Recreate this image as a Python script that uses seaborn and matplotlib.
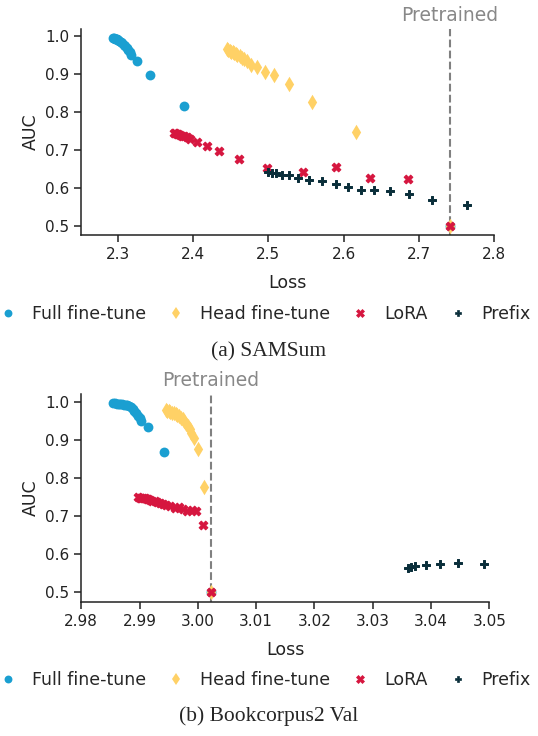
import numpy as np
import pandas as pd
import matplotlib
matplotlib.use("Agg")
import matplotlib.pyplot as plt
import seaborn as sns

# ---------------- data: SAMSum ----------------
samsum_pretrained_loss = 2.741
samsum_full_loss = [2.294, 2.295, 2.296, 2.297, 2.298, 2.299, 2.300, 2.302, 2.304, 2.306,
                    2.308, 2.310, 2.312, 2.314, 2.316, 2.318, 2.325, 2.343, 2.388, 2.741]
samsum_full_auc = [0.995, 0.995, 0.994, 0.994, 0.993, 0.992, 0.990, 0.988, 0.985, 0.982,
                   0.978, 0.974, 0.969, 0.963, 0.958, 0.952, 0.936, 0.899, 0.816, 0.500]
samsum_head_loss = [2.445, 2.447, 2.449, 2.451, 2.453, 2.455, 2.457, 2.459, 2.462, 2.465,
                    2.468, 2.471, 2.477, 2.485, 2.495, 2.508, 2.527, 2.558, 2.616, 2.741]
samsum_head_auc = [0.966, 0.964, 0.962, 0.960, 0.958, 0.956, 0.953, 0.951, 0.948, 0.944,
                   0.940, 0.935, 0.925, 0.920, 0.907, 0.897, 0.874, 0.827, 0.747, 0.500]
samsum_lora_loss = [2.374, 2.376, 2.378, 2.380, 2.382, 2.385, 2.388, 2.392, 2.396, 2.405,
                    2.418, 2.435, 2.461, 2.498, 2.546, 2.590, 2.635, 2.686, 2.741]
samsum_lora_auc = [0.745, 0.744, 0.743, 0.742, 0.740, 0.738, 0.736, 0.733, 0.729, 0.722,
                   0.711, 0.697, 0.676, 0.653, 0.641, 0.654, 0.626, 0.623, 0.500]
samsum_prefix_loss = [2.500, 2.5045, 2.510, 2.518, 2.527, 2.539, 2.5545, 2.572, 2.5895,
                      2.606, 2.6235, 2.641, 2.6615, 2.6865, 2.717, 2.7635]
samsum_prefix_auc = [0.641, 0.639, 0.639, 0.635, 0.633, 0.626, 0.621, 0.619, 0.610,
                     0.603, 0.593, 0.593, 0.592, 0.583, 0.569, 0.555]

# ---------------- data: Bookcorpus2 Val ----------------
book_pretrained_loss = 3.0022
book_full_loss = [2.9855, 2.9858, 2.9861, 2.9864, 2.9867, 2.9870, 2.9873, 2.9876, 2.9879, 2.9882,
                  2.9885, 2.9888, 2.9891, 2.9894, 2.9897, 2.9900, 2.9903, 2.9915, 2.9942, 3.0022]
book_full_auc = [0.997, 0.997, 0.996, 0.996, 0.995, 0.995, 0.994, 0.993, 0.992, 0.990,
                 0.987, 0.983, 0.978, 0.972, 0.965, 0.958, 0.950, 0.936, 0.869, 0.500]
book_head_loss = [2.9945, 2.9947, 2.9950, 2.9953, 2.9956, 2.9959, 2.9962, 2.9965, 2.9968, 2.9971,
                  2.9974, 2.9977, 2.9980, 2.9983, 2.9986, 2.9989, 2.9993, 3.0001, 3.0010, 3.0022]
book_head_auc = [0.980, 0.978, 0.976, 0.975, 0.973, 0.971, 0.969, 0.966, 0.963, 0.959,
                 0.955, 0.950, 0.944, 0.937, 0.929, 0.920, 0.905, 0.877, 0.776, 0.500]
book_lora_loss = [2.9897, 2.9900, 2.9903, 2.9906, 2.9909, 2.9912, 2.9915, 2.9918, 2.9922, 2.9926,
                  2.9930, 2.9935, 2.9940, 2.9946, 2.9952, 2.9960, 2.9968, 2.9975, 2.9982, 2.9990,
                  2.9996, 3.0009, 3.0022]
book_lora_auc = [0.750, 0.749, 0.749, 0.748, 0.747, 0.746, 0.745, 0.743, 0.741, 0.739,
                 0.737, 0.735, 0.732, 0.729, 0.726, 0.723, 0.724, 0.720, 0.713, 0.716,
                 0.715, 0.676, 0.500]
book_prefix_loss = [3.0361, 3.0365, 3.0372, 3.0391, 3.0416, 3.0447, 3.0491]
book_prefix_auc = [0.565, 0.567, 0.569, 0.573, 0.575, 0.577, 0.575]

methods = ["Full fine-tune", "Head fine-tune", "LoRA", "Prefix"]
colors = {"Full fine-tune": "#1A9FD1", "Head fine-tune": "#FFD166",
          "LoRA": "#D6163F", "Prefix": "#0A2E3A"}
markers = {"Full fine-tune": "o", "Head fine-tune": "d", "LoRA": "X", "Prefix": "P"}
msizes = {"Full fine-tune": 50, "Head fine-tune": 62, "LoRA": 40, "Prefix": 34}
edgew = {"Full fine-tune": 0, "Head fine-tune": 0, "LoRA": 0.7, "Prefix": 0.7}

sns.set_style("ticks")
plt.rcParams["font.family"] = ["DejaVu Sans"]

fig = plt.figure(figsize=(5.38, 7.36), dpi=100)
ax1 = fig.add_axes([81 / 538, 1 - 235 / 736, (494 - 81) / 538, (235 - 29) / 736])
ax2 = fig.add_axes([81.3 / 538, 1 - 601.7 / 736, (489.3 - 81.3) / 538, (601.7 - 394) / 736])


def draw(ax, data, pre_x, xlim, xticks, xfmt, caption, cap_y, leg_y):
    for m in methods:
        lx, ly = data[m]
        df = pd.DataFrame({"Loss": lx, "AUC": ly})
        sns.scatterplot(data=df, x="Loss", y="AUC", ax=ax, color=colors[m],
                        marker=markers[m], s=msizes[m], linewidth=edgew[m],
                        edgecolor=colors[m], label=m, legend=False, zorder=3)
    ax.axvline(pre_x, color="#808080", linestyle="--", linewidth=1.5, zorder=2)
    ax.set_xlim(*xlim)
    ax.set_xticks(xticks)
    ax.set_xticklabels([xfmt.format(t) for t in xticks])
    ax.set_yticks([0.5, 0.6, 0.7, 0.8, 0.9, 1.0])
    ax.set_yticklabels(["0.5", "0.6", "0.7", "0.8", "0.9", "1.0"])
    ax.tick_params(labelsize=11, length=5, width=1.1, color="#222222", labelcolor="#222222")
    for sp in ["left", "bottom"]:
        ax.spines[sp].set_linewidth(1.1)
        ax.spines[sp].set_color("#222222")
    sns.despine(ax=ax)
    ax.set_xlabel("Loss", fontsize=12.5, color="#222222", labelpad=9)
    ax.set_ylabel("AUC", fontsize=12.5, color="#222222", labelpad=4)
    ax.annotate("Pretrained", xy=(pre_x, 1.0), xycoords=ax.get_xaxis_transform(),
                xytext=(0, 3), textcoords="offset points",
                ha="center", va="bottom", fontsize=13.5, color="#888888")
    handles = [plt.Line2D([], [], linestyle="none", marker=markers[m],
                          markersize=np.sqrt(msizes[m]) * 0.8, markerfacecolor=colors[m],
                          markeredgecolor=colors[m], markeredgewidth=edgew[m] * 0.7,
                          label=m) for m in methods]
    fig.legend(handles=handles, loc="center", bbox_to_anchor=(265 / 538, 1 - leg_y / 736),
               ncol=4, frameon=False, fontsize=12.5, handlelength=1.0,
               handletextpad=0.85, columnspacing=1.25, borderaxespad=0, borderpad=0)
    fig.text(0.5, 1 - cap_y / 736, caption, ha="center", va="center",
             fontsize=15.5, family="Liberation Serif")


data1 = {"Full fine-tune": (samsum_full_loss, samsum_full_auc),
         "Head fine-tune": (samsum_head_loss, samsum_head_auc),
         "LoRA": (samsum_lora_loss, samsum_lora_auc),
         "Prefix": (samsum_prefix_loss, samsum_prefix_auc)}
data2 = {"Full fine-tune": (book_full_loss, book_full_auc),
         "Head fine-tune": (book_head_loss, book_head_auc),
         "LoRA": (book_lora_loss, book_lora_auc),
         "Prefix": (book_prefix_loss, book_prefix_auc)}

draw(ax1, data1, samsum_pretrained_loss, (2.251, 2.8),
     [2.3, 2.4, 2.5, 2.6, 2.7, 2.8], "{:.1f}", "(a) SAMSum", 352, 314)
draw(ax2, data2, book_pretrained_loss, (2.98, 3.05),
     [2.98, 2.99, 3.00, 3.01, 3.02, 3.03, 3.04, 3.05], "{:.2f}",
     "(b) Bookcorpus2 Val", 716, 680)

fig.savefig("out.png", dpi=100)
